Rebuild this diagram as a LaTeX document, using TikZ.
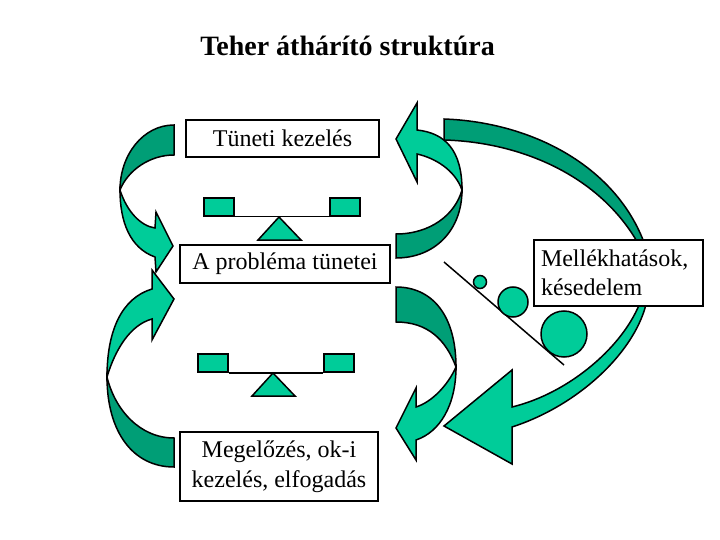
\documentclass[tikz,border=0pt]{standalone}
\usepackage{fontspec}
\setmainfont{Liberation Serif}
\usepackage{tikz}
\usetikzlibrary{positioning}
\definecolor{lite}{RGB}{0,204,153}
\definecolor{deep}{RGB}{0,158,118}
\tikzset{
  box/.style={draw,line width=1.5pt,fill=white,align=center,font=\fontsize{24}{29.5}\selectfont,inner sep=0pt},
  pan/.style={draw,line width=1.5pt,fill=lite,minimum width=30,minimum height=18,inner sep=0pt},
  ball/.style={draw,line width=1.5pt,fill=lite,circle,inner sep=0pt},
  front/.style={draw,line width=1.5pt,fill=lite,line join=miter},
  back/.style={draw,line width=1.5pt,fill=deep,line join=miter},
  rod/.style={draw,line width=1.5pt}
}
\begin{document}
\begin{tikzpicture}[x=1pt,y=-1pt]
\useasboundingbox (0,0) rectangle (720,540);
\node[font=\fontsize{28}{32}\selectfont\bfseries] (title) at (347.5,46) {Teher áthárító struktúra};
% bent arrows
\draw[back] (174,125) .. controls (143,125) and (120,155) .. (120,190) .. controls (128,170) and (150,155) .. (174,155) -- cycle;
\draw[front] (120,190) .. controls (120,222) and (130,248) .. (155,257) -- (156,272) -- (173,246) -- (156,212) -- (155,228) .. controls (141,226) and (127,212) .. (120,190) -- cycle;
\draw[back] (174,467) .. controls (133,467) and (107,432) .. (107,377) .. controls (115,410) and (140,438) .. (174,438) -- cycle;
\draw[front] (107,377) .. controls (107,330) and (122,298) .. (152,289) -- (152,270) -- (174,299) -- (152,340) -- (152,319) .. controls (130,325) and (115,350) .. (107,377) -- cycle;
\draw[back] (396,258) .. controls (435,258) and (462,230) .. (462,190) .. controls (455,215) and (430,234) .. (396,234) -- cycle;
\draw[front] (462,190) .. controls (462,150) and (445,133) .. (417,130) -- (417,103) -- (396,139) -- (417,182) -- (417,154) .. controls (435,158) and (455,170) .. (462,190) -- cycle;
\draw[back] (396,287) .. controls (432,287) and (456,315) .. (456,367) .. controls (446,340) and (428,322) .. (396,322) -- cycle;
\draw[front] (456,367) .. controls (456,405) and (440,432) .. (416,440) -- (416,460) -- (396,428) -- (416,388) -- (416,407) .. controls (432,402) and (448,385) .. (456,367) -- cycle;
% long arrow behind the side box
\draw[back] (444,119) .. controls (530,122) and (616,165) .. (645,245) -- (639,245) .. controls (600,175) and (520,142) .. (444,140) -- cycle;
\draw[front] (647,300) .. controls (637,350) and (580,405) .. (512,427) -- (512,464) -- (444,426) -- (512,370) -- (512,407) .. controls (570,393) and (625,345) .. (641,300) -- cycle;
% boxes
\node[box,minimum width=193,minimum height=37] (top) at (282.5,138.5) {Tüneti kezelés};
\node[box,minimum width=210,minimum height=38] (mid) at (285,264) {A probléma tünetei};
\node[box,minimum width=198,minimum height=69] (low) at (279,466.5) {Megelőzés, ok-i\\kezelés, elfogadás};
\node[box,align=left,text width=155,minimum width=169,minimum height=66] (side) at (618.5,273) {Mellékhatások,\\késedelem};
% upper balance
\node[pan] (pana) at (219,207) {};
\node[pan] (panb) at (345,207) {};
\draw[rod] (pana.south east) -- (panb.south west);
\draw[front] (279,217) -- (301,240) -- (258,240) -- cycle;
% lower balance
\node[pan] (panc) at (213,363) {};
\node[pan] (pand) at (339,363) {};
\draw[rod] (panc.south east) -- (pand.south west);
\draw[front] (273,373) -- (295,396) -- (252,396) -- cycle;
% slope with weights
\coordinate (slopea) at (444,262);
\coordinate (slopeb) at (564,365);
\draw[rod] (slopea) -- (slopeb);
\node[ball,minimum size=13] (w1) at (480,282) {};
\node[ball,minimum size=30] (w2) at (513,302) {};
\node[ball,minimum size=46] (w3) at (564,334) {};
\end{tikzpicture}
\end{document}
